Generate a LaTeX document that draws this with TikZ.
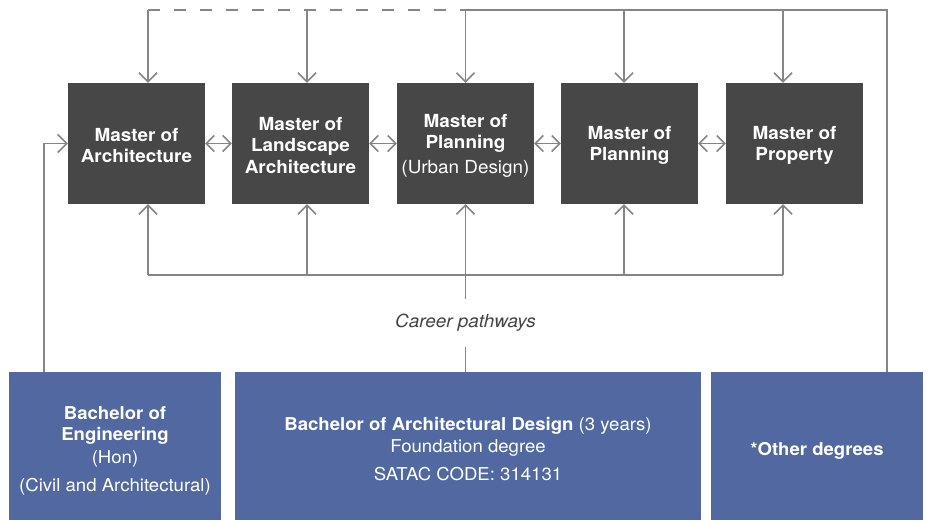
\documentclass[tikz,border=0pt]{standalone}
\usepackage{fontspec}
\setmainfont{TeX Gyre Heros}[FakeStretch=1.05]
\usetikzlibrary{arrows.meta}
\definecolor{masterbg}{HTML}{474747}
\definecolor{bachbg}{HTML}{5169A0}
\definecolor{linkgray}{HTML}{858585}
\definecolor{careertext}{HTML}{444444}
\newcommand{\topgap}[1]{\rule{0pt}{#1}}
\begin{document}
\begin{tikzpicture}[x=1pt,y=-1pt,
    master/.style={fill=masterbg,text=white,minimum width=137pt,minimum height=121pt,
      inner sep=0pt,align=center,font=\fontsize{18}{21.5}\selectfont\bfseries},
    bachelor/.style={fill=bachbg,text=white,minimum height=148pt,inner sep=0pt,
      align=center,font=\fontsize{17.7}{21.5}\selectfont},
    link/.style={draw=linkgray,line width=1.5pt},
    tip/.style={link,-{Straight Barb[length=9pt,width=18pt]}},
    both/.style={link,{Straight Barb[length=8pt,width=16pt]}-{Straight Barb[length=8pt,width=16pt]}}]
    \useasboundingbox (0,0) rectangle (928,520);
    \node[master] (arch) at (136.5,143.5) {\topgap{17pt}Master of\\Architecture};
    \node[master] (land) at (300.5,143.5) {\topgap{17pt}Master of\\Landscape\\Architecture};
    \node[master] (urban) at (465.5,143.5) {\topgap{17pt}Master of\\Planning\\[3pt]{\mdseries (Urban Design)}};
    \node[master] (plan) at (629.5,143.5) {\topgap{17pt}Master of\\Planning};
    \node[master] (prop) at (794.5,143.5) {\topgap{17pt}Master of\\Property};
    \node[bachelor,minimum width=212pt] (eng) at (115,446)
      {\topgap{23pt}\textbf{Bachelor of}\\\textbf{Engineering}\\[1.5pt](Hon)\\[6.5pt](Civil and Architectural)};
    \node[bachelor,minimum width=466pt] (design) at (468,446)
      {\topgap{19pt}\textbf{Bachelor of Architectural Design} (3 years)\\Foundation degree\\[6.5pt]SATAC CODE: 314131};
    \node[bachelor,minimum width=212pt] (other) at (817,446) {\topgap{23pt}\textbf{*Other degrees}};
    \node[minimum height=47pt,inner sep=0pt,text=careertext,
      font=\fontsize{18}{21}\selectfont\itshape] (career) at (465.5,323) {Career pathways};
    % top bar
    \coordinate (t1) at (148,10);
    \coordinate (t2) at (307,10);
    \coordinate (t3) at (465.5,10);
    \coordinate (t4) at (624,10);
    \coordinate (t5) at (783,10);
    \coordinate (corner) at (887,10);
    \draw[link,dash pattern=on 12pt off 14pt] (t1) -- (t3);
    \draw[link] (t3) -- (corner) -- (corner |- other.north);
    \draw[tip] (t1) -- (t1 |- arch.north);
    \draw[tip] (t2) -- (t2 |- land.north);
    \draw[tip] (t3) -- (t3 |- urban.north);
    \draw[tip] (t4) -- (t4 |- plan.north);
    \draw[tip] (t5) -- (t5 |- prop.north);
    % bottom bar
    \coordinate (u1) at (148,275);
    \coordinate (u2) at (307,275);
    \coordinate (u3) at (465.5,275);
    \coordinate (u4) at (624,275);
    \coordinate (u5) at (783,275);
    \draw[link] (u1) -- (u5);
    \draw[tip] (u1) -- (u1 |- arch.south);
    \draw[tip] (u2) -- (u2 |- land.south);
    \draw[tip] (u3) -- (u3 |- urban.south);
    \draw[tip] (u4) -- (u4 |- plan.south);
    \draw[tip] (u5) -- (u5 |- prop.south);
    \draw[link] (u3) -- (career.north);
    \draw[link] (career.south) -- (career.south |- design.north);
    % left entry
    \coordinate (left) at (44,143.5);
    \draw[tip] (left |- eng.north) -- (left) -- (arch.west);
    % between masters
    \draw[both] (arch.east) -- (land.west);
    \draw[both] (land.east) -- (urban.west);
    \draw[both] (urban.east) -- (plan.west);
    \draw[both] (plan.east) -- (prop.west);
\end{tikzpicture}
\end{document}
